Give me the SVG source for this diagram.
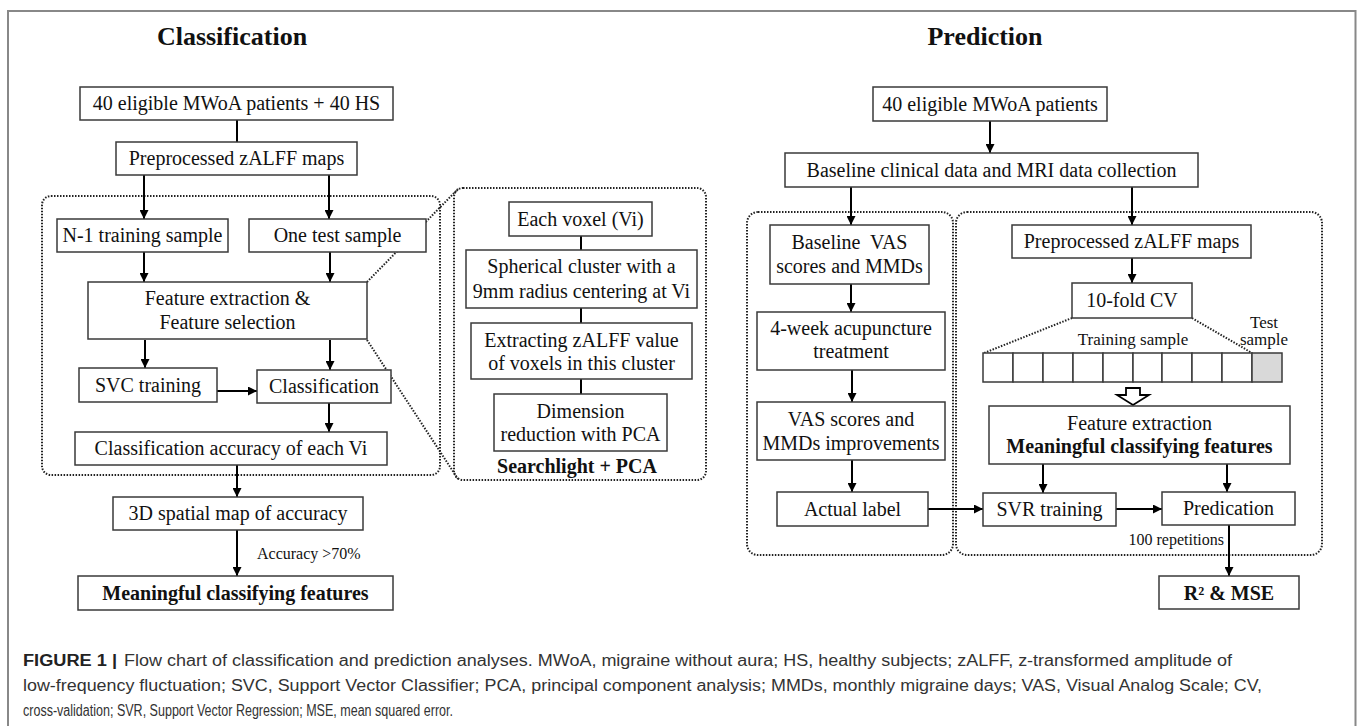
<svg xmlns="http://www.w3.org/2000/svg" width="1357" height="726" viewBox="0 0 1357 726">
<defs>
<marker id="ah" viewBox="0 0 10 10" refX="10" refY="5" markerWidth="9" markerHeight="9" markerUnits="userSpaceOnUse" orient="auto">
<path d="M0,0 L10,5 L0,10 z" fill="#000"/>
</marker>
<style>
.box{fill:#fff;stroke:#3a3a3a;stroke-width:1.5}
.t{font-family:"Liberation Serif","Times New Roman",serif;font-size:20px;fill:#111;text-anchor:middle}
.b{font-weight:bold}
.s{font-size:16px}
.m{font-size:17px}
.ar{stroke:#000;stroke-width:2;fill:none;marker-end:url(#ah)}
.ln{stroke:#000;stroke-width:2;fill:none}
.dot{fill:none;stroke:#222;stroke-width:2;stroke-dasharray:1.5 1.5}
.cap{font-family:"Liberation Sans",Arial,sans-serif;font-size:16px;fill:#333}
.frame{stroke:#888;stroke-width:2;fill:none}
</style>
</defs>
<rect width="1357" height="726" fill="#fff"/>
<path class="frame" d="M8,726 L8,11 L1355.5,11 L1355.5,726"/>

<text class="t b" x="232" y="45" style="font-size:26px">Classification</text>
<text class="t b" x="985" y="45" style="font-size:26px">Prediction</text>

<g id="containers">
<rect class="dot" x="42" y="196" width="398" height="279" rx="9"/>
<rect class="dot" x="454" y="188" width="252" height="292" rx="9"/>
<rect class="dot" x="747" y="212" width="206" height="343" rx="11"/>
<rect class="dot" x="956" y="212" width="366" height="343" rx="11"/>
</g>

<g id="connectors">
<line class="dot" x1="367" y1="282" x2="458" y2="189"/>
<line class="dot" x1="367" y1="340" x2="458" y2="479"/>
<line class="dot" x1="1072" y1="318" x2="984" y2="353"/>
<line class="dot" x1="1192" y1="318" x2="1252" y2="353"/>
<line class="ln" x1="237" y1="120" x2="237" y2="142"/>
<line class="ar" x1="144" y1="175" x2="144" y2="219"/>
<line class="ar" x1="329" y1="175" x2="329" y2="219"/>
<line class="ar" x1="144" y1="252" x2="144" y2="282"/>
<line class="ar" x1="330" y1="252" x2="330" y2="282"/>
<line class="ar" x1="145" y1="340" x2="145" y2="368"/>
<line class="ar" x1="330" y1="340" x2="330" y2="370"/>
<line class="ar" x1="217" y1="391" x2="257" y2="391"/>
<line class="ar" x1="329" y1="403" x2="329" y2="432"/>
<line class="ar" x1="237" y1="465" x2="237" y2="497"/>
<line class="ar" x1="237" y1="530" x2="237" y2="576"/>
<line class="ln" x1="581" y1="236" x2="581" y2="250"/>
<line class="ln" x1="581" y1="308" x2="581" y2="323"/>
<line class="ln" x1="581" y1="379" x2="581" y2="394"/>
<line class="ar" x1="990" y1="121" x2="990" y2="153"/>
<line class="ar" x1="851" y1="187" x2="851" y2="225"/>
<line class="ar" x1="1132" y1="187" x2="1132" y2="225"/>
<line class="ar" x1="851" y1="284" x2="851" y2="312"/>
<line class="ar" x1="852" y1="370" x2="852" y2="402"/>
<line class="ar" x1="852" y1="460" x2="852" y2="492"/>
<line class="ar" x1="928" y1="509" x2="983" y2="509"/>
<line class="ar" x1="1132" y1="258" x2="1132" y2="283"/>
<line class="ar" x1="1043" y1="464" x2="1043" y2="493"/>
<line class="ar" x1="1227" y1="464" x2="1227" y2="492"/>
<line class="ar" x1="1116" y1="509" x2="1162" y2="509"/>
<line class="ar" x1="1229" y1="525" x2="1229" y2="576"/>
<polygon points="1126,388 1140,388 1140,395 1149,395 1133,405 1117,395 1126,395" fill="#fff" stroke="#000" stroke-width="1.8"/>
<text class="t s" x="257" y="559" style="text-anchor:start">Accuracy &gt;70%</text>
<text class="t s" x="1224" y="545" style="text-anchor:end">100 repetitions</text>
</g>

<g id="n-c1"><rect class="box" x="80" y="87" width="313" height="33"/><text class="t" x="236.5" y="110">40 eligible MWoA patients + 40 HS</text></g>
<g id="n-c2"><rect class="box" x="116" y="142" width="241" height="33"/><text class="t" x="236.5" y="165">Preprocessed zALFF maps</text></g>
<g id="n-c3"><rect class="box" x="57" y="219" width="171" height="33"/><text class="t" x="142.5" y="242">N-1 training sample</text></g>
<g id="n-c4"><rect class="box" x="249" y="219" width="177" height="33"/><text class="t" x="337.5" y="242">One test sample</text></g>
<g id="n-c5"><rect class="box" x="88" y="282" width="279" height="57"/><text class="t" x="227.5" y="305">Feature extraction &amp;</text><text class="t" x="227.5" y="329">Feature selection</text></g>
<g id="n-c6"><rect class="box" x="79" y="368" width="138" height="34"/><text class="t" x="148" y="392">SVC training</text></g>
<g id="n-c7"><rect class="box" x="257" y="370" width="134" height="33"/><text class="t" x="324" y="393">Classification</text></g>
<g id="n-c8"><rect class="box" x="75" y="432" width="312" height="33"/><text class="t" x="231" y="455">Classification accuracy of each Vi</text></g>
<g id="n-c9"><rect class="box" x="113" y="497" width="250" height="33"/><text class="t" x="238" y="520">3D spatial map of accuracy</text></g>
<g id="n-c10"><rect class="box" x="78" y="576" width="315" height="34"/><text class="t b" x="235.5" y="600">Meaningful classifying features</text></g>

<g id="n-s1"><rect class="box" x="509" y="202" width="143" height="34"/><text class="t" x="580.5" y="226">Each voxel (Vi)</text></g>
<g id="n-s2"><rect class="box" x="466" y="250" width="231" height="58"/><text class="t" x="581.5" y="273">Spherical cluster with a</text><text class="t" x="581.5" y="298">9mm radius centering at Vi</text></g>
<g id="n-s3"><rect class="box" x="471" y="323" width="221" height="56"/><text class="t" x="581.5" y="347">Extracting zALFF value</text><text class="t" x="581.5" y="370">of voxels in this cluster</text></g>
<g id="n-s4"><rect class="box" x="494" y="394" width="173" height="57"/><text class="t" x="580.5" y="418">Dimension</text><text class="t" x="580.5" y="441">reduction with PCA</text></g>
<g id="n-s5"><text class="t b" x="577" y="473">Searchlight + PCA</text></g>

<g id="n-p1"><rect class="box" x="873" y="87" width="234" height="34"/><text class="t" x="990" y="111">40 eligible MWoA patients</text></g>
<g id="n-p2"><rect class="box" x="785" y="153" width="413" height="34"/><text class="t" x="991.5" y="177">Baseline clinical data and MRI data collection</text></g>
<g id="n-p3"><rect class="box" x="770" y="225" width="159" height="59"/><text class="t" x="849.5" y="249" style="white-space:pre">Baseline  VAS</text><text class="t" x="849.5" y="273">scores and MMDs</text></g>
<g id="n-p4"><rect class="box" x="757" y="312" width="188" height="58"/><text class="t" x="851" y="335">4-week acupuncture</text><text class="t" x="851" y="358">treatment</text></g>
<g id="n-p5"><rect class="box" x="757" y="402" width="188" height="58"/><text class="t" x="851" y="426">VAS scores and</text><text class="t" x="851" y="450">MMDs improvements</text></g>
<g id="n-p6"><rect class="box" x="777" y="492" width="151" height="34"/><text class="t" x="852.5" y="516">Actual label</text></g>
<g id="n-p7"><rect class="box" x="1012" y="225" width="239" height="33"/><text class="t" x="1131.5" y="248">Preprocessed zALFF maps</text></g>
<g id="n-p8"><rect class="box" x="1072" y="283" width="120" height="35"/><text class="t" x="1132" y="307">10-fold CV</text></g>
<g id="n-p9">
<text class="t m" x="1133" y="345">Training sample</text>
<text class="t m" x="1264" y="328">Test</text><text class="t m" x="1264" y="345">sample</text>
<rect class="box" x="983" y="353" width="30" height="29"/>
<rect class="box" x="1013" y="353" width="30" height="29"/>
<rect class="box" x="1043" y="353" width="30" height="29"/>
<rect class="box" x="1073" y="353" width="30" height="29"/>
<rect class="box" x="1103" y="353" width="30" height="29"/>
<rect class="box" x="1133" y="353" width="29" height="29"/>
<rect class="box" x="1162" y="353" width="30" height="29"/>
<rect class="box" x="1192" y="353" width="30" height="29"/>
<rect class="box" x="1222" y="353" width="30" height="29"/>
<rect class="box" x="1252" y="353" width="30" height="29" style="fill:#d9d9d9"/>
</g>
<g id="n-p10"><rect class="box" x="989" y="406" width="301" height="58"/><text class="t" x="1139.5" y="430">Feature extraction</text><text class="t b" x="1139.5" y="453">Meaningful classifying features</text></g>
<g id="n-p11"><rect class="box" x="983" y="493" width="133" height="33"/><text class="t" x="1049.5" y="516">SVR training</text></g>
<g id="n-p12"><rect class="box" x="1162" y="492" width="133" height="33"/><text class="t" x="1228.5" y="515">Predication</text></g>
<g id="n-p13"><rect class="box" x="1159" y="576" width="140" height="33"/><text class="t b" x="1229" y="600">R² &amp; MSE</text></g>

<g id="caption">
<text class="cap" x="23" y="666" style="font-weight:bold;fill:#222" textLength="94" lengthAdjust="spacingAndGlyphs">FIGURE 1 |</text>
<text class="cap" x="124" y="666" textLength="1108" lengthAdjust="spacingAndGlyphs">Flow chart of classification and prediction analyses. MWoA, migraine without aura; HS, healthy subjects; zALFF, z-transformed amplitude of</text>
<text class="cap" x="23" y="691" textLength="1239" lengthAdjust="spacingAndGlyphs">low-frequency fluctuation; SVC, Support Vector Classifier; PCA, principal component analysis; MMDs, monthly migraine days; VAS, Visual Analog Scale; CV,</text>
<text class="cap" x="23" y="716" textLength="430" lengthAdjust="spacingAndGlyphs">cross-validation; SVR, Support Vector Regression; MSE, mean squared error.</text>
</g>
</svg>
